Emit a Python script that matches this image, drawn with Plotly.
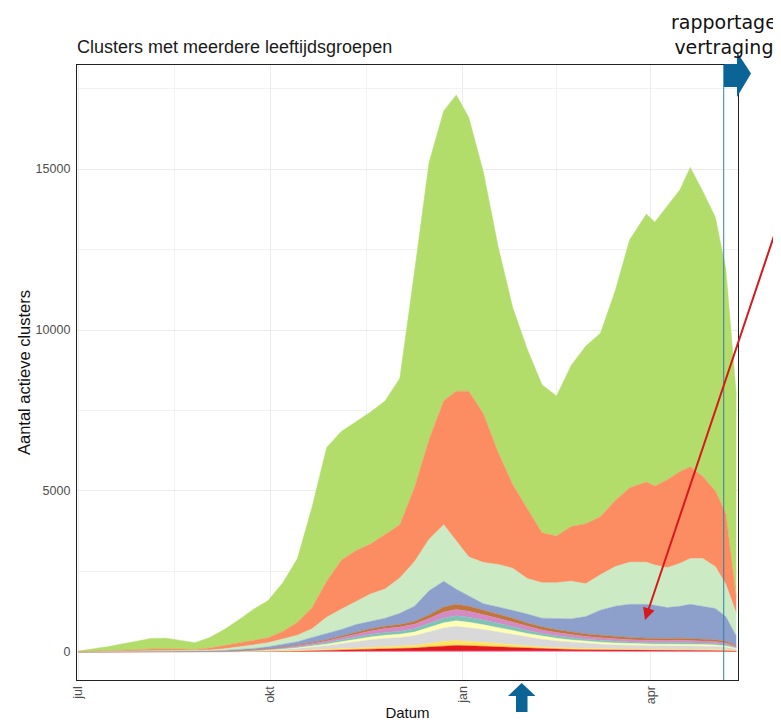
import numpy as np
import plotly.graph_objects as go

dates = ["2020-07-01","2020-07-08","2020-07-15","2020-07-22","2020-07-29","2020-08-05","2020-08-12","2020-08-19",
         "2020-08-26","2020-09-02","2020-09-09","2020-09-16","2020-09-23","2020-09-30","2020-10-07","2020-10-14",
         "2020-10-21","2020-10-28","2020-11-04","2020-11-11","2020-11-18","2020-11-25","2020-12-02","2020-12-09",
         "2020-12-16","2020-12-23","2020-12-29","2021-01-04","2021-01-11","2021-01-18","2021-01-25","2021-02-01",
         "2021-02-08","2021-02-15","2021-02-22","2021-03-01","2021-03-08","2021-03-15","2021-03-22","2021-03-30",
         "2021-04-03","2021-04-09","2021-04-15","2021-04-20","2021-04-26","2021-05-02","2021-05-07","2021-05-12"]

# tops of the big bands
total_top = [30,90,160,250,340,420,430,350,290,450,700,1000,1330,1600,2150,2900,4500,6350,6850,7150,7450,7800,
             8500,11800,15200,16800,17300,16600,14900,12600,10700,9400,8300,7950,8900,9500,9900,11200,12800,
             13600,13350,13850,14350,15050,14300,13500,11900,8000]
orange_top = [10,20,30,50,70,90,100,90,80,120,200,280,380,440,640,920,1370,2200,2850,3150,3350,3650,3950,5100,
              6600,7800,8100,8100,7400,6200,5200,4450,3700,3600,3900,3980,4200,4700,5100,5280,5150,5350,5600,
              5750,5450,5000,4300,1700]
lightgreen_top = [5,10,15,25,35,45,50,45,40,60,100,150,220,290,400,520,720,1080,1330,1560,1800,1960,2300,2800,
                  3500,3950,3450,2950,2780,2720,2600,2280,2150,2150,2200,2120,2400,2650,2790,2790,2700,2620,2750,
                  2900,2900,2650,2100,1200]
blue_top = [3,5,8,12,16,20,22,20,18,28,45,70,110,160,230,320,450,570,700,850,950,1050,1200,1420,1900,2200,1950,
            1750,1500,1400,1300,1180,1050,1030,1030,1100,1300,1420,1480,1480,1450,1380,1420,1480,1420,1350,1100,500]

# thin bands (bottom to top)
pink = [0,0,0,0,1,1,1,1,1,1,1,2,3,4,6,8,10,13,17,20,24,26,28,30,35,40,42,42,40,38,35,32,30,28,27,26,25,25,24,24,
        24,24,24,24,23,22,20,14]
red = [0,0,1,1,1,1,1,1,1,1,2,3,5,8,12,17,24,32,40,50,60,68,75,90,120,150,160,150,135,120,100,80,65,55,48,42,38,
       35,33,32,32,32,32,32,30,28,25,15]
yellow = [0,0,0,1,1,1,1,1,1,1,2,3,5,8,12,17,24,32,42,52,60,68,72,85,110,135,145,135,120,105,90,72,60,50,42,36,32,
          30,28,27,27,27,27,27,26,25,22,14]
grey = [1,1,1,2,2,3,3,3,3,4,7,12,20,30,45,65,90,120,160,200,235,260,275,300,350,420,450,430,400,360,320,280,240,
        210,185,160,145,130,120,112,108,108,110,108,102,96,82,50]
lightyellow = [0,1,1,1,1,2,2,2,2,2,3,5,8,12,18,25,35,45,60,75,85,95,100,112,135,160,170,165,150,140,125,107,92,82,
               74,68,63,58,55,52,50,50,52,50,48,46,40,25]
teal = [0,0,1,1,1,1,1,1,1,2,3,5,8,12,18,25,35,45,58,70,80,90,95,108,130,150,160,155,145,130,115,100,88,78,70,64,
        60,56,52,50,49,49,50,49,47,45,40,25]
lavender = [0,0,1,1,1,1,2,1,1,2,4,6,10,15,23,32,43,58,75,95,110,120,128,140,160,185,190,185,170,155,140,124,110,
            100,92,86,80,74,70,68,66,66,68,66,63,60,53,32]
brown = [1,1,0,0,1,1,1,1,0,2,3,4,6,11,16,21,29,35,48,58,66,73,77,85,110,160,163,158,140,132,125,105,95,87,82,78,
         77,72,68,65,64,64,67,64,61,58,48,25]

tick_vals = ["2020-07-01", "2020-10-01", "2021-01-01", "2021-04-01"]
tick_text = ["jul", "okt", "jan", "apr"]
minor_vals = ["2020-08-16", "2020-11-16", "2021-02-15"]
y_ticks = [0, 5000, 10000, 15000]
y_tick_text = ["0", "5000", "10000", "15000"]
delay_date = "2021-05-06"

thin = [pink, red, yellow, grey, lightyellow, teal, lavender, brown]
thin_sum = np.sum(np.array(thin), axis=0)
blue = np.array(blue_top) - thin_sum
lightgreen = np.array(lightgreen_top) - np.array(blue_top)
orange = np.array(orange_top) - np.array(lightgreen_top)
green = np.array(total_top) - np.array(orange_top)

layers = [
    ("groep 1", pink, "#f39ac8"),
    ("groep 2", red, "#e31a1c"),
    ("groep 3", yellow, "#ffe45c"),
    ("groep 4", grey, "#d9d9d9"),
    ("groep 5", lightyellow, "#ffffb3"),
    ("groep 6", teal, "#7fc3b6"),
    ("groep 7", lavender, "#d58ac6"),
    ("groep 8", brown, "#c0753a"),
    ("groep 9", blue, "#8da0cb"),
    ("groep 10", lightgreen, "#ccebc5"),
    ("groep 11", orange, "#fc8d62"),
    ("groep 12", green, "#b2dd6a"),
]

fig = go.Figure()
for name, vals, col in layers:
    fig.add_trace(go.Scatter(x=dates, y=list(vals), name=name, mode="lines", stackgroup="one",
                             line=dict(width=0.5, color=col), fillcolor=col, showlegend=False))

# page body has an 8px margin, so figure coords = screen coords - 8
OFF = 8
W, H = 781 - OFF, 725 - OFF
L, R, T, B = 77, 738, 65, 680          # screen coords of plot area
def px(x):
    return (x - L) / (R - L)
def py(y):
    return (B - y) / (B - T)

shapes = []
shapes.append(dict(type="line", xref="x", yref="paper", x0=delay_date, x1=delay_date, y0=0, y1=1,
                   line=dict(color="#2f7fa8", width=1)))
pts = [(724, 64), (737, 64), (737, 52), (751, 73.5), (737, 97), (737, 87), (724, 87)]
path = "M " + " L ".join(f"{px(a)},{py(b)}" for a, b in pts) + " Z"
shapes.append(dict(type="path", xref="paper", yref="paper", path=path, fillcolor="#0b6496",
                   line=dict(width=0)))
pts2 = [(521.7, 683), (535.5, 696), (527.5, 696), (527.5, 712), (516, 712), (516, 696), (508, 696)]
path2 = "M " + " L ".join(f"{px(a)},{py(b)}" for a, b in pts2) + " Z"
shapes.append(dict(type="path", xref="paper", yref="paper", path=path2, fillcolor="#0b6496",
                   line=dict(width=0)))

annotations = [
    dict(text="rapportage<br>vertraging", xref="paper", yref="paper", x=px(724), y=py(34),
         xanchor="center", yanchor="middle", showarrow=False, align="center",
         font=dict(family="DejaVu Sans", size=19, color="#111111")),
    dict(text="", xref="paper", yref="paper", x=px(645), y=py(620), showarrow=True,
         ax=140, ay=-405, axref="pixel", ayref="pixel", arrowhead=2, arrowsize=1.2,
         arrowwidth=2, arrowcolor="#d7191c"),
]

fig.update_layout(
    width=W, height=H,
    margin=dict(l=L - OFF, r=781 - R, t=T - OFF, b=725 - B, autoexpand=False),
    paper_bgcolor="white", plot_bgcolor="white",
    title=dict(text="Clusters met meerdere leeftijdsgroepen", xref="paper", x=0, xanchor="left",
               yref="container", y=1 - (47 - OFF) / H, yanchor="middle",
               font=dict(family="Liberation Sans, Arial", size=18, color="#1a1a1a")),
    font=dict(family="Liberation Sans, Arial", size=12, color="#4d4d4d"),
    shapes=shapes, annotations=annotations,
    xaxis=dict(range=["2020-06-30 12:00", "2021-05-12 20:00"], tickmode="array", tickvals=tick_vals,
               ticktext=tick_text, tickangle=-90, showgrid=True, gridcolor="#ebebeb", gridwidth=1,
               minor=dict(tickmode="array", tickvals=minor_vals, showgrid=True, gridcolor="#f2f2f2", gridwidth=1),
               showline=True, linecolor="#222222", linewidth=1.3, mirror=True, ticks="",
               title=dict(text="Datum", font=dict(size=15, color="#111111"), standoff=4),
               tickfont=dict(size=12.5, color="#4d4d4d"), zeroline=False),
    yaxis=dict(range=[-870, 18230], tickmode="array", tickvals=y_ticks, ticktext=y_tick_text,
               showgrid=True, gridcolor="#ebebeb",
               gridwidth=1, minor=dict(dtick=2500, tick0=0, showgrid=True, gridcolor="#f2f2f2", gridwidth=1),
               showline=True, linecolor="#222222", linewidth=1.3, mirror=True, ticks="",
               ticklabelstandoff=3,
               title=dict(text="Aantal actieve clusters", font=dict(size=16.5, color="#111111"), standoff=0),
               tickfont=dict(size=12.5, color="#4d4d4d"), zeroline=False),
)

fig.write_html("out.html")
